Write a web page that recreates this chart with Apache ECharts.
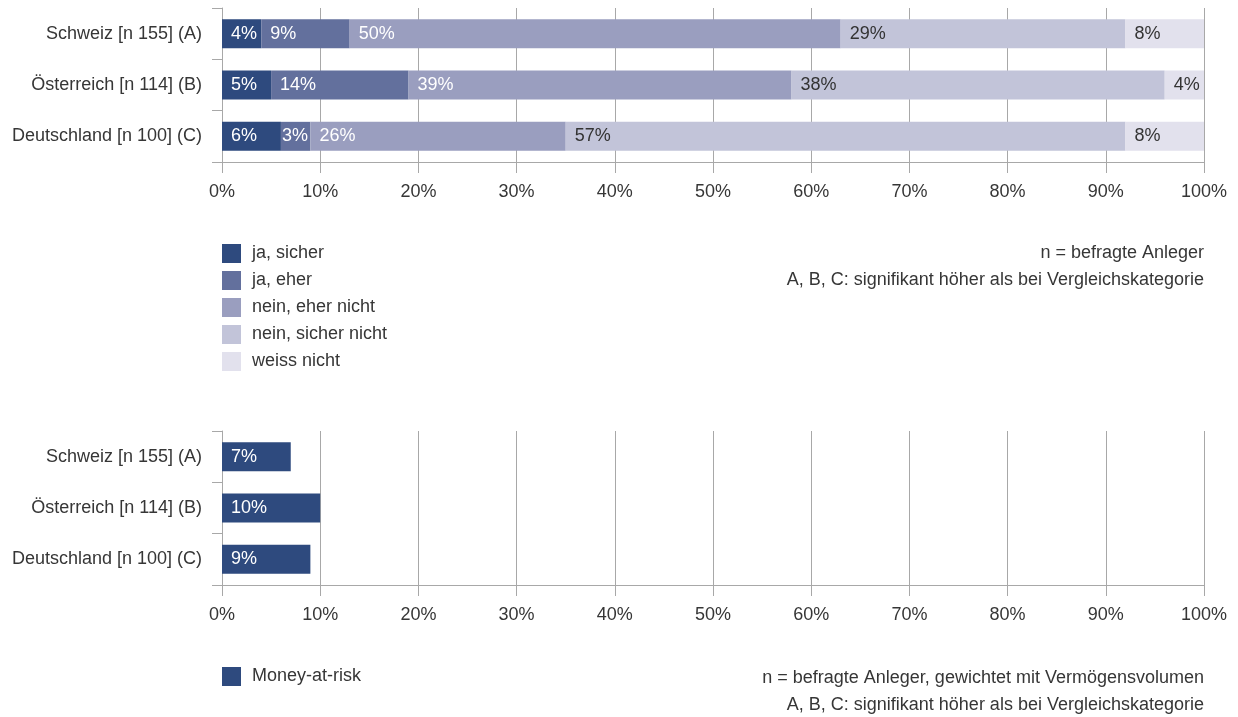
<!DOCTYPE html>
<html>
<head>
<meta charset="utf-8">
<script src="https://cdn.jsdelivr.net/npm/echarts@6/dist/echarts.min.js"></script>
<style>
  html, body { margin: 0; padding: 0; background: #fff; }
  #chart { width: 1238px; height: 717px; }
</style>
</head>
<body>
<div id="chart"></div>
<script>
// Countries (top to bottom)
const categories = ['Schweiz [n 155] (A)', 'Österreich [n 114] (B)', 'Deutschland [n 100] (C)'];

// Answer shares in percent, per country
const jaSicher = [4, 5, 6];
const jaEher = [9, 14, 3];
const neinEherNicht = [50, 39, 26];
const neinSicherNicht = [29, 38, 57];
const weissNicht = [8, 4, 8];

// Money-at-risk share in percent, per country
const moneyAtRisk = [7, 10, 9];

// Axis ticks
const xTicks = [0, 10, 20, 30, 40, 50, 60, 70, 80, 90, 100];

const seriesNames = ['ja, sicher', 'ja, eher', 'nein, eher nicht', 'nein, sicher nicht', 'weiss nicht'];
const seriesData = [jaSicher, jaEher, neinEherNicht, neinSicherNicht, weissNicht];
const seriesColors = ['#2e4a7e', '#63709d', '#9a9ebf', '#c2c4d9', '#e2e1ed'];
const labelColors = ['#ffffff', '#ffffff', '#ffffff', '#333333', '#333333'];

const FONT = '"Liberation Sans", Arial, sans-serif';
const TEXT = '#363636';
const LINE = '#a8a8a8';

function xAxis(gridIndex) {
  return {
    type: 'value', gridIndex: gridIndex,
    min: xTicks[0], max: xTicks[xTicks.length - 1], interval: xTicks[1] - xTicks[0],
    axisLine: { show: true, lineStyle: { color: LINE, width: 1 } },
    axisTick: { show: true, length: 11, lineStyle: { color: LINE, width: 1 } },
    splitLine: { show: true, lineStyle: { color: LINE, width: 1 } },
    axisLabel: { formatter: '{value}%', fontFamily: FONT, fontSize: 18, color: TEXT, margin: 21 }
  };
}

function yAxis(gridIndex) {
  return {
    type: 'category', gridIndex: gridIndex, data: categories, inverse: true,
    axisLine: { show: true, lineStyle: { color: LINE, width: 1 } },
    axisTick: { show: true, length: 10, lineStyle: { color: LINE, width: 1 } },
    axisLabel: { fontFamily: FONT, fontSize: 18, color: TEXT, margin: 20 }
  };
}

// Narrow segments keep their label tight against the segment start
function barData(values) {
  return values.map(v => v <= 3 ? { value: v, label: { distance: 1 } } : v);
}

const series = seriesData.map((d, i) => ({
  name: seriesNames[i], type: 'bar', stack: 'total',
  xAxisIndex: 0, yAxisIndex: 0, data: barData(d), barWidth: 29,
  itemStyle: { color: seriesColors[i] },
  label: {
    show: true, position: 'insideLeft', distance: 9, formatter: '{c}%',
    fontFamily: FONT, fontSize: 18, color: labelColors[i]
  },
  emphasis: { disabled: true }
}));

series.push({
  name: 'Money-at-risk', type: 'bar', xAxisIndex: 1, yAxisIndex: 1,
  data: moneyAtRisk, barWidth: 29,
  itemStyle: { color: '#2e4a7e' },
  label: {
    show: true, position: 'insideLeft', distance: 9, formatter: '{c}%',
    fontFamily: FONT, fontSize: 18, color: '#ffffff'
  },
  emphasis: { disabled: true }
});

const noteStyle = { fontFamily: FONT, fontSize: 18, fill: TEXT, textAlign: 'right', textVerticalAlign: 'middle' };
const legendText = { fontFamily: FONT, fontSize: 18, color: TEXT, padding: [0, 0, 0, 6] };

const chart = echarts.init(document.getElementById('chart'), null, { renderer: 'canvas' });
chart.setOption({
  animation: false,
  grid: [
    { left: 222, right: 34, top: 8, height: 154 },
    { left: 222, right: 34, top: 431, height: 154 }
  ],
  xAxis: [xAxis(0), xAxis(1)],
  yAxis: [yAxis(0), yAxis(1)],
  legend: [
    {
      data: seriesNames, orient: 'vertical', left: 222, top: 244, padding: 0,
      itemWidth: 19, itemHeight: 19, itemGap: 8, icon: 'rect',
      selectedMode: false, textStyle: legendText
    },
    {
      data: ['Money-at-risk'], orient: 'vertical', left: 222, top: 667, padding: 0,
      itemWidth: 19, itemHeight: 19, icon: 'rect',
      selectedMode: false, textStyle: legendText
    }
  ],
  graphic: [
    { type: 'text', right: 34, top: 244, style: Object.assign({ text: 'n = befragte Anleger' }, noteStyle) },
    { type: 'text', right: 34, top: 271, style: Object.assign({ text: 'A, B, C: signifikant höher als bei Vergleichskategorie' }, noteStyle) },
    { type: 'text', right: 34, top: 669, style: Object.assign({ text: 'n = befragte Anleger, gewichtet mit Vermögensvolumen' }, noteStyle) },
    { type: 'text', right: 34, top: 696, style: Object.assign({ text: 'A, B, C: signifikant höher als bei Vergleichskategorie' }, noteStyle) }
  ],
  series: series
});
</script>
</body>
</html>
